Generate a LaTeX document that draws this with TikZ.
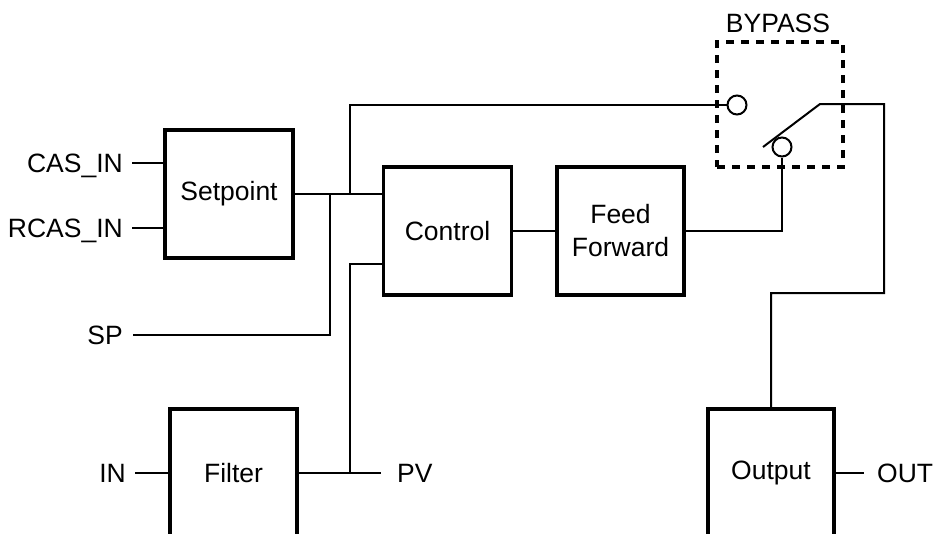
\documentclass[tikz,border=0pt]{standalone}
\usepackage{fontspec}
\setmainfont{Liberation Sans}
\begin{document}
\begin{tikzpicture}[x=1pt,y=-1pt,
  blk/.style={draw, line width=3.5pt, minimum width=128pt, minimum height=128pt, inner sep=0pt, align=center, font=\fontsize{26.5}{33}\selectfont},
  lbl/.style={inner sep=0pt, text height=19pt, text depth=0pt, font=\fontsize{26.5}{32}\selectfont},
  wire/.style={line width=2pt},
  port/.style={draw, circle, line width=2pt, minimum size=19pt, inner sep=0pt},
  bypbox/.style={draw, line width=3.5pt, dash pattern=on 8pt off 7pt, minimum width=126pt, minimum height=125pt, inner sep=0pt}]
\useasboundingbox (0,0) rectangle (936,533);
\fill[white] (0,0) rectangle (936,533);
% blocks
\node[blk] (setp) at (229,194) {Setpoint};
\node[blk] (ctrl) at (447.5,231) {Control};
\node[blk, minimum width=127pt] (ff) at (620.5,231) {Feed\\Forward};
\node[blk, minimum width=127pt] (filt) at (233.5,473) {Filter};
\node[blk, minimum width=126pt] (outb) at (771,473) {Output};
\node[bypbox] (byp) at (780,104.5) {};
% labels
\node[lbl, anchor=east] (casin) at (123,163) {CAS\_IN};
\node[lbl, anchor=east] (rcasin) at (123,228) {RCAS\_IN};
\node[lbl, anchor=east] (sp) at (123,335) {SP};
\node[lbl, anchor=east] (in) at (126,473) {IN};
\node[lbl, anchor=west] (pv) at (397,473) {PV};
\node[lbl, anchor=west] (out) at (877,473) {OUT};
\node[lbl] (bypl) at (778,23) {BYPASS};
% ports
\node[port] (c1) at (737,105) {};
\node[port] (c2) at (782,147) {};
% junction coordinates
\coordinate (j1) at (330,194);
\coordinate (j2) at (350,194);
\coordinate (j3) at (350,264);
\coordinate (pvj) at (350,473);
\coordinate (bl1) at (763,147);
\coordinate (bl2) at (820,104);
\coordinate (br) at (884,104);
\coordinate (bd) at (884,293);
% wires
\draw[wire] ([xshift=9pt]casin.east) -- (casin -| setp.west);
\draw[wire] ([xshift=9pt]rcasin.east) -- (rcasin -| setp.west);
\draw[wire] (setp.east) -- (setp.east -| ctrl.west);
\draw[wire] ([xshift=10pt]sp.east) -| (j1);
\draw[wire] (j2) |- (c1.west);
\draw[wire] (ctrl.west |- j3) -- (j3) -- (pvj);
\draw[wire] ([xshift=9pt]in.east) -- (filt.west);
\draw[wire] (filt.east) -- ([xshift=-16pt]pv.west);
\draw[wire] (ctrl.east) -- (ff.west);
\draw[wire] (ff.east) -| (c2.south);
\draw[wire] (bl1) -- (bl2) -- (br) -- (bd) -| (outb.north);
\draw[wire] (outb.east) -- ([xshift=-13pt]out.west);
\end{tikzpicture}
\end{document}
